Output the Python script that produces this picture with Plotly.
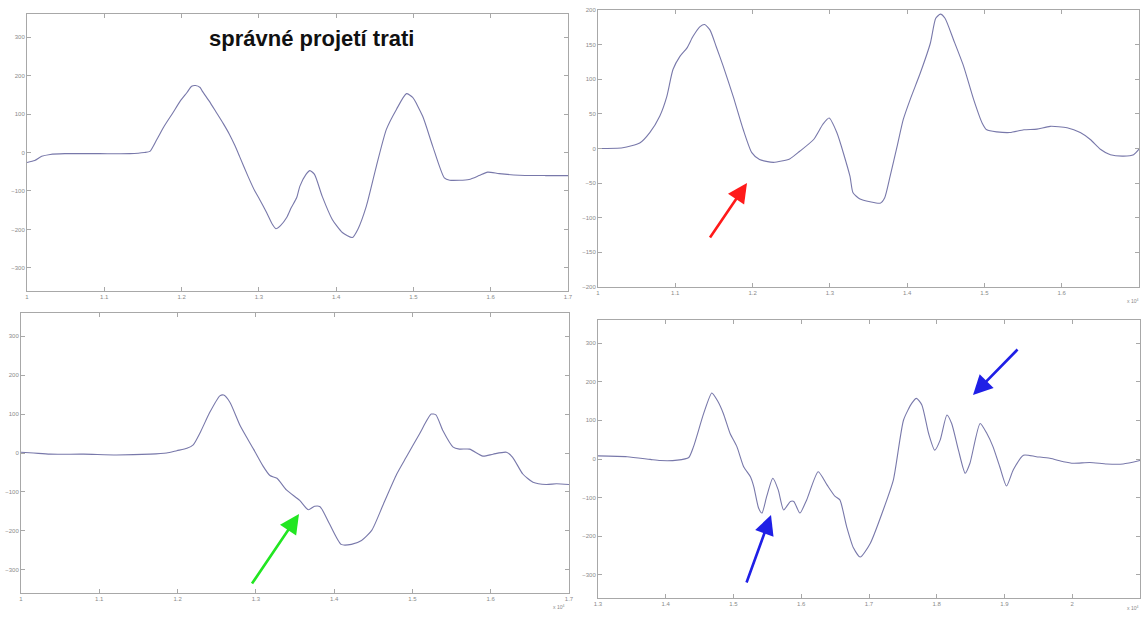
import plotly.graph_objects as go

# ---------------- data (x in units of 10^4) ----------------
x1 = [1.000, 1.010, 1.019, 1.030, 1.049, 1.094, 1.133, 1.152, 1.159, 1.168, 1.178, 1.189, 1.198, 1.207,
      1.213, 1.218, 1.224, 1.227, 1.236, 1.245, 1.254, 1.262, 1.269, 1.275, 1.286, 1.295, 1.301, 1.310,
      1.317, 1.322, 1.328, 1.336, 1.342, 1.349, 1.353, 1.361, 1.366, 1.372, 1.382, 1.395, 1.408, 1.421,
      1.428, 1.439, 1.452, 1.465, 1.478, 1.491, 1.499, 1.512, 1.525, 1.540, 1.547, 1.572, 1.585, 1.596,
      1.611, 1.637, 1.671, 1.700]
y1 = [-26, -21, -10, -5, -3, -3, -3, 0, 3, 34, 70, 104, 133, 156,
      172, 174, 169, 159, 133, 104, 75, 47, 18, -10, -62, -101, -122, -156,
      -185, -198, -190, -169, -143, -117, -88, -57, -47, -57, -114, -174, -208, -221,
      -200, -140, -36, 60, 112, 153, 143, 94, 16, -66, -72, -70, -60, -51,
      -55, -59, -60, -60]

x2 = [1.000, 1.032, 1.054, 1.067, 1.080, 1.089, 1.097, 1.106, 1.115, 1.123, 1.132, 1.138, 1.145, 1.153,
      1.162, 1.175, 1.188, 1.199, 1.209, 1.227, 1.248, 1.261, 1.279, 1.291, 1.299, 1.309, 1.326, 1.330,
      1.339, 1.352, 1.365, 1.371, 1.378, 1.387, 1.395, 1.404, 1.417, 1.430, 1.437, 1.443, 1.449, 1.460,
      1.473, 1.486, 1.497, 1.503, 1.516, 1.533, 1.551, 1.568, 1.585, 1.607, 1.624, 1.637, 1.650, 1.663,
      1.680, 1.693, 1.700]
y2 = [0, 1, 8, 23, 47, 75, 114, 133, 145, 162, 176, 179, 171, 147,
      119, 75, 27, -6, -16, -20, -15, -4, 13, 35, 44, 23, -40, -64,
      -73, -77, -79, -71, -40, 3, 42, 71, 109, 152, 188, 194, 188, 157,
      119, 71, 37, 27, 24, 23, 27, 28, 32, 30, 23, 13, -1, -9,
      -11, -9, -1]

x3 = [1.000, 1.016, 1.037, 1.080, 1.122, 1.165, 1.186, 1.199, 1.212, 1.220, 1.229, 1.241, 1.254, 1.259,
      1.267, 1.280, 1.297, 1.309, 1.318, 1.327, 1.339, 1.356, 1.367, 1.375, 1.382, 1.394, 1.409, 1.422,
      1.435, 1.448, 1.463, 1.480, 1.492, 1.509, 1.524, 1.530, 1.539, 1.552, 1.560, 1.573, 1.590, 1.603,
      1.620, 1.628, 1.641, 1.654, 1.671, 1.684, 1.700]
y3 = [2, 0, -3, -3, -5, -3, 0, 6, 12, 21, 53, 104, 147, 149,
      130, 70, 10, -33, -58, -65, -95, -122, -146, -137, -138, -182, -235, -235,
      -225, -199, -131, -54, -11, 49, 100, 98, 57, 15, 10, 10, -8, -3,
      2, -11, -54, -75, -81, -79, -81]

x4 = [1.300, 1.343, 1.377, 1.392, 1.417, 1.434, 1.441, 1.456, 1.468, 1.476, 1.485, 1.495, 1.505, 1.515,
      1.525, 1.530, 1.537, 1.542, 1.549, 1.558, 1.566, 1.574, 1.584, 1.589, 1.598, 1.608, 1.625, 1.638,
      1.650, 1.657, 1.667, 1.677, 1.687, 1.702, 1.721, 1.736, 1.751, 1.763, 1.770, 1.778, 1.788, 1.797,
      1.805, 1.815, 1.822, 1.832, 1.842, 1.849, 1.864, 1.874, 1.883, 1.893, 1.903, 1.913, 1.928, 1.947,
      1.967, 1.987, 2.002, 2.026, 2.051, 2.075, 2.100]
y4 = [8, 6, -1, -4, -3, 4, 32, 118, 171, 152, 118, 66, 32, -20,
      -46, -72, -127, -140, -97, -50, -80, -132, -110, -110, -140, -106, -33, -67,
      -97, -106, -175, -230, -254, -218, -132, -54, 101, 144, 157, 140, 66, 23,
      49, 114, 92, 23, -37, -11, 92, 66, 32, -20, -70, -28, 10, 6,
      2, -7, -11, -9, -13, -13, -4]

ticks_x_a = [1.0, 1.1, 1.2, 1.3, 1.4, 1.5, 1.6, 1.7]
labels_x_a = ["1", "1.1", "1.2", "1.3", "1.4", "1.5", "1.6", "1.7"]
ticks_x_b = [1.3, 1.4, 1.5, 1.6, 1.7, 1.8, 1.9, 2.0, 2.1]
labels_x_b = ["1.3", "1.4", "1.5", "1.6", "1.7", "1.8", "1.9", "2", "2.1"]
ticks_y_a = [-300, -200, -100, 0, 100, 200, 300]
ticks_y_b = [-200, -150, -100, -50, 0, 50, 100, 150, 200]

title_text = "správné projetí trati"

# ---------------- figure ----------------
W, H = 1142, 617
LINE = "#7878aa"
AX = "#a8a8a8"
TXT = "#8a8a8a"

def px(x):
    return x / W

def py(y):
    return 1 - y / H

fig = go.Figure()
series = [(x1, y1, "x", "y"), (x2, y2, "x2", "y2"), (x3, y3, "x3", "y3"), (x4, y4, "x4", "y4")]
for xs, ys, xa, ya in series:
    fig.add_trace(go.Scatter(x=xs, y=ys, xaxis=xa, yaxis=ya, mode="lines",
                             line=dict(color=LINE, width=1.1, shape="spline", smoothing=0.6),
                             showlegend=False, hoverinfo="skip"))

domains = {
    1: ((27, 568), (14, 291)),
    2: ((598, 1139), (10, 287)),
    3: ((21, 569), (313, 593)),
    4: ((598, 1140), (320, 598)),
}
xranges = {1: [1.0, 1.7], 2: [1.0, 1.7], 3: [1.0, 1.7], 4: [1.3, 2.1]}
yranges = {1: [-360, 360], 2: [-200, 200], 3: [-360, 360], 4: [-360, 360]}
xt = {1: (ticks_x_a, labels_x_a), 2: (ticks_x_a, labels_x_a), 3: (ticks_x_a, labels_x_a), 4: (ticks_x_b, labels_x_b)}
yt = {1: ticks_y_a, 2: ticks_y_b, 3: ticks_y_a, 4: ticks_y_a}

common = dict(showline=True, linecolor=AX, linewidth=1, mirror="ticks", ticks="inside",
              ticklen=4, tickcolor=AX, showgrid=False, zeroline=False, automargin=False,
              tickfont=dict(size=6, color=TXT, family="Liberation Sans"), fixedrange=True)

layout = {}
for i in range(1, 5):
    (xa, xb), (ya, yb) = domains[i]
    sx = "xaxis" if i == 1 else f"xaxis{i}"
    sy = "yaxis" if i == 1 else f"yaxis{i}"
    anchor_y = "y" if i == 1 else f"y{i}"
    anchor_x = "x" if i == 1 else f"x{i}"
    layout[sx] = dict(domain=[px(xa), px(xb)], range=xranges[i], anchor=anchor_y,
                      tickvals=xt[i][0], ticktext=xt[i][1], **common)
    layout[sy] = dict(domain=[py(yb), py(ya)], range=yranges[i], anchor=anchor_x,
                      tickvals=yt[i], **common)

annotations = [
    dict(text=f"<b>{title_text}</b>", x=px(311), y=py(38), xref="paper", yref="paper",
         showarrow=False, font=dict(size=22, color="#111111", family="Liberation Sans"),
         xanchor="center", yanchor="middle"),
    dict(text="x 10<sup>4</sup>", x=px(566), y=py(607), xref="paper", yref="paper",
         showarrow=False, font=dict(size=5, color=TXT, family="Liberation Sans"),
         xanchor="right", yanchor="middle"),
    dict(text="x 10<sup>4</sup>", x=px(1140), y=py(608), xref="paper", yref="paper",
         showarrow=False, font=dict(size=5, color=TXT, family="Liberation Sans"),
         xanchor="right", yanchor="middle"),
    dict(text="x 10<sup>4</sup>", x=px(1140), y=py(301), xref="paper", yref="paper",
         showarrow=False, font=dict(size=5, color=TXT, family="Liberation Sans"),
         xanchor="right", yanchor="middle"),
]

arrows = [
    ((747, 183), (709, 239), "#ff1a1a"),
    ((299, 514), (251, 585), "#22e622"),
    ((771, 515), (746, 584), "#1f1fe6"),
    ((973, 395), (1019, 348), "#1f1fe6"),
]
for (tx, ty), (sx_, sy_), col in arrows:
    annotations.append(dict(x=px(tx), y=py(ty), xref="paper", yref="paper", text="",
                            showarrow=True, ax=sx_ - tx, ay=sy_ - ty, axref="pixel", ayref="pixel",
                            arrowhead=2, arrowsize=1.5, arrowwidth=2.6, arrowcolor=col,
                            standoff=0, startstandoff=0))

fig.update_layout(width=W, height=H, margin=dict(l=0, r=0, t=0, b=0, pad=0),
                  paper_bgcolor="white", plot_bgcolor="white",
                  annotations=annotations, **layout)

fig.write_html("out.html", config={"displayModeBar": False},
               post_script="document.body.style.margin='0px';document.body.style.overflow='hidden';")
